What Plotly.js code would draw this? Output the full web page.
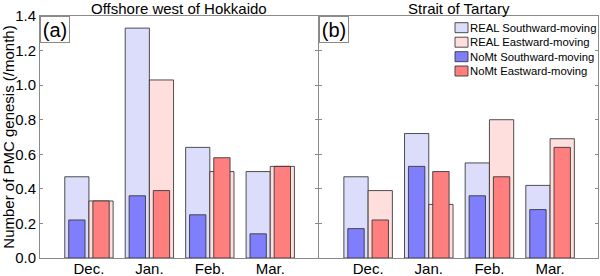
<!DOCTYPE html>
<html>
<head>
<meta charset="utf-8">
<script src="https://cdn.plot.ly/plotly-3.0.1.min.js"></script>
<style>
html,body{margin:0;padding:0;background:#fff;}
#chart{width:600px;height:276px;}
</style>
</head>
<body>
<div id="chart"></div>
<script>
// Data
var months = ['Dec.', 'Jan.', 'Feb.', 'Mar.'];
var panelTitles = ['Offshore west of Hokkaido', 'Strait of Tartary'];
var panelLabels = ['(a)', '(b)'];
var seriesNames = ['REAL Southward-moving', 'REAL Eastward-moving', 'NoMt Southward-moving', 'NoMt Eastward-moving'];

var hokkaidoRealS = [0.47, 1.33, 0.64, 0.50];
var hokkaidoRealE = [0.33, 1.03, 0.50, 0.53];
var hokkaidoNoMtS = [0.22, 0.36, 0.25, 0.14];
var hokkaidoNoMtE = [0.33, 0.39, 0.58, 0.53];

var tartaryRealS = [0.47, 0.72, 0.55, 0.42];
var tartaryRealE = [0.39, 0.31, 0.80, 0.69];
var tartaryNoMtS = [0.17, 0.53, 0.36, 0.28];
var tartaryNoMtE = [0.22, 0.50, 0.47, 0.64];

var yTickVals = [0, 0.2, 0.4, 0.6, 0.8, 1.0, 1.2, 1.4];

// Styles
var colors = ['#dcdcfb', '#ffdede', '#7f7ffd', '#ff7f7f'];
var offsets = [-0.4, 0, -0.335, 0.065];
var widths = [0.4, 0.4, 0.27, 0.27];
var edge = {color: 'rgba(50,50,50,0.85)', width: 1};
var FONT = 'Liberation Sans, Arial, Helvetica, sans-serif';
var W = 600, H = 276, M = {l: 40, r: 2, t: 16, b: 18};
var PW = W - M.l - M.r, PH = H - M.t - M.b;
function fx(px) { return (px - M.l) / PW; }
function fy(py) { return 1 - (py - M.t) / PH; }

var panels = [
  {xa: 'x', ya: 'y', data: [hokkaidoRealS, hokkaidoRealE, hokkaidoNoMtS, hokkaidoNoMtE]},
  {xa: 'x2', ya: 'y2', data: [tartaryRealS, tartaryRealE, tartaryNoMtS, tartaryNoMtE]}
];

var traces = [];
panels.forEach(function (p, pi) {
  p.data.forEach(function (vals, si) {
    traces.push({
      type: 'bar',
      x: months,
      y: vals,
      xaxis: p.xa,
      yaxis: p.ya,
      name: seriesNames[si],
      showlegend: false,
      offset: offsets[si],
      width: widths[si],
      marker: {color: colors[si], line: edge},
      hoverinfo: 'x+y+name'
    });
  });
});

var axisLine = '#8a8a8a';
function xAxis(domain, anchor) {
  return {
    domain: domain, anchor: anchor, type: 'category',
    range: [-0.81, 3.79],
    showline: true, linecolor: axisLine, linewidth: 1, mirror: true,
    ticks: '', showgrid: false, zeroline: false,
    ticklabelstandoff: -3,
    tickfont: {family: FONT, size: 15, color: '#000'}
  };
}
function yAxis(anchor, showLabels) {
  var a = {
    anchor: anchor, range: [0, 1.4],
    tickvals: yTickVals, tickformat: '.1f',
    showticklabels: showLabels,
    showline: true, linecolor: axisLine, linewidth: 1, mirror: 'ticks',
    ticks: 'inside', ticklen: 3, tickcolor: axisLine,
    showgrid: false, zeroline: false,
    tickfont: {family: FONT, size: 15, color: '#000'}
  };
  if (showLabels) {
    a.title = {text: 'Number of PMC genesis (/month)', font: {family: FONT, size: 15, color: '#000'}, standoff: 4};
  }
  return a;
}

var annotations = [];
var shapes = [];
var xrefs = ['x domain', 'x2 domain'];
var yrefs = ['y domain', 'y2 domain'];
for (var i = 0; i < 2; i++) {
  annotations.push({
    text: panelTitles[i], xref: xrefs[i], yref: yrefs[i], x: 0.5, y: 1,
    xanchor: 'center', yanchor: 'bottom', yshift: -2, showarrow: false,
    borderpad: 0,
    font: {family: FONT, size: 15, color: '#000'}
  });
  annotations.push({
    text: panelLabels[i], xref: xrefs[i], yref: yrefs[i], x: 0, y: 1,
    xanchor: 'left', yanchor: 'top', showarrow: false,
    width: 26, height: 23, borderpad: 1,
    bordercolor: axisLine, borderwidth: 1, bgcolor: '#fff',
    font: {family: FONT, size: 20, color: '#000'}
  });
}

// Legend (drawn in the right panel's upper-right corner)
var legendRowsY = [27.7, 42.2, 56.7, 71];
seriesNames.forEach(function (name, si) {
  var cy = legendRowsY[si];
  shapes.push({
    type: 'rect', xref: 'paper', yref: 'paper',
    x0: fx(455), x1: fx(468), y0: fy(cy + 5), y1: fy(cy - 5),
    fillcolor: colors[si], line: {color: 'rgba(50,50,50,0.85)', width: 1}
  });
  annotations.push({
    text: name, xref: 'paper', yref: 'paper', x: fx(469), y: fy(cy),
    xanchor: 'left', yanchor: 'middle', showarrow: false, borderpad: 0,
    font: {family: FONT, size: 11.3, color: '#000'}
  });
});

var layout = {
  width: W, height: H,
  margin: M,
  paper_bgcolor: '#fff', plot_bgcolor: '#fff',
  barmode: 'overlay',
  showlegend: false,
  xaxis: xAxis([0, 0.4982], 'y'),
  yaxis: yAxis('x', true),
  xaxis2: xAxis([0.5, 1], 'y2'),
  yaxis2: yAxis('x2', false),
  annotations: annotations,
  shapes: shapes,
  font: {family: FONT}
};

Plotly.newPlot('chart', traces, layout, {displayModeBar: false, staticPlot: true});
</script>
</body>
</html>
